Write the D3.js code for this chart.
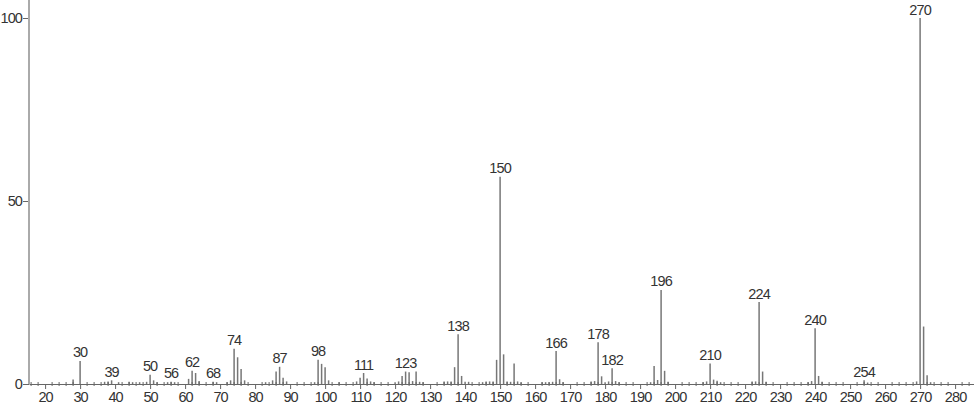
<!DOCTYPE html>
<html>
<head>
<meta charset="utf-8">
<script src="https://cdn.jsdelivr.net/npm/d3@7"></script>
<style>
  body { margin: 0; background: #fff; }
  svg text { font-family: "Liberation Sans", Arial, sans-serif; fill: #333; letter-spacing: -0.9px; }
</style>
</head>
<body>
<div id="spectrum"></div>
<script>
// m/z values and relative intensities (%)
const mz = [
  28, 30, 37, 38, 39, 41, 44, 45, 47, 49, 50, 51, 52, 55, 56, 57,
  61, 62, 63, 64, 68, 69, 72, 73, 74, 75, 76, 77, 83, 85, 86, 87, 88, 89,
  97, 98, 99, 100, 101, 104, 109, 110, 111, 112, 113, 114,
  120, 121, 122, 123, 124, 125, 126, 127, 128,
  134, 135, 136, 137, 138, 139, 140, 141,
  145, 146, 147, 148, 149, 150, 151, 152, 153, 154, 155, 156,
  162, 163, 164, 165, 166, 167, 168,
  176, 177, 178, 179, 180, 181, 182, 183, 184,
  193, 194, 195, 196, 197, 198,
  208, 209, 210, 211, 212, 213,
  222, 223, 224, 225, 226,
  238, 239, 240, 241, 242,
  254, 255,
  269, 270, 271, 272, 273
];
const intensity = [
  1.2, 6.3, 0.6, 0.7, 1.0, 0.5, 0.6, 0.5, 0.5, 0.6, 2.5, 1.0, 0.5, 0.5, 0.6, 0.5,
  1.4, 3.6, 3.0, 0.8, 0.6, 0.5, 0.5, 1.0, 9.6, 7.3, 4.1, 1.0, 0.5, 1.0, 3.4, 4.7, 1.7, 0.7,
  0.5, 6.6, 5.5, 4.6, 1.0, 0.5, 0.7, 1.7, 3.0, 1.5, 0.7, 0.5,
  0.5, 0.7, 2.2, 3.4, 3.2, 0.8, 3.4, 0.6, 0.5,
  0.7, 0.7, 0.7, 4.6, 13.6, 2.2, 0.6, 0.6,
  0.5, 0.7, 0.7, 0.7, 6.6, 56.6, 8.1, 0.7, 0.6, 5.6, 0.7, 0.4,
  0.5, 0.5, 0.5, 0.6, 9.0, 1.3, 0.5,
  0.7, 0.8, 11.4, 2.1, 0.5, 0.7, 4.3, 0.8, 0.5,
  0.5, 4.9, 1.1, 25.7, 3.6, 0.6,
  0.5, 0.7, 5.6, 1.2, 0.9, 0.5,
  0.7, 0.7, 22.4, 3.4, 0.6,
  0.5, 0.8, 15.2, 2.2, 0.6,
  1.0, 0.4,
  0.7, 100, 15.7, 2.4, 0.5
];
// peaks that carry a label
const labelledPeaks = [30, 39, 50, 56, 62, 68, 74, 87, 98, 111, 123, 138, 150, 166, 178, 182, 196, 210, 224, 240, 254, 270];
const xMajorTicks = [20, 30, 40, 50, 60, 70, 80, 90, 100, 110, 120, 130, 140, 150, 160, 170, 180, 190, 200, 210, 220, 230, 240, 250, 260, 270, 280];
const yTicks = [0, 50, 100];

const width = 974, height = 406;
const peaks = mz.map((m, i) => ({ mz: m, value: intensity[i] }));

const svg = d3.select("#spectrum").append("svg")
    .attr("width", width)
    .attr("height", height);

const x = d3.scaleLinear().domain([15.4, 285.4]).range([29, 974]);
const y = d3.scaleLinear().domain([0, 100]).range([384, 18]);

// peaks
svg.selectAll(".peak")
    .data(peaks)
    .enter()
    .append("line")
    .attr("class", "peak")
    .attr("x1", d => x(d.mz))
    .attr("x2", d => x(d.mz))
    .attr("y1", y(0))
    .attr("y2", d => y(d.value))
    .style("stroke", "#777")
    .style("stroke-width", 1.5);

// minor ticks every 2 units
const minorTicks = d3.range(16, 286, 2).filter(t => t % 10 !== 0);
svg.selectAll(".minor-tick")
    .data(minorTicks)
    .enter()
    .append("line")
    .attr("class", "minor-tick")
    .attr("x1", d => x(d))
    .attr("x2", d => x(d))
    .attr("y1", y(0) - 2)
    .attr("y2", y(0) + 2)
    .style("stroke", "#666")
    .style("stroke-width", 1);

// x axis
const xAxis = d3.axisBottom(x)
    .tickValues(xMajorTicks)
    .tickSize(5)
    .tickSizeOuter(0)
    .tickFormat(d3.format("d"));

const gx = svg.append("g")
    .attr("class", "axis x-axis")
    .attr("transform", `translate(0, ${y(0)})`)
    .call(xAxis);
gx.select(".domain").style("stroke", "#666").style("stroke-width", 1.2);
gx.selectAll(".tick line").style("stroke", "#666");
gx.selectAll(".tick text")
    .attr("y", 8)
    .style("font-size", "14.5px");

// y axis
const yAxis = d3.axisLeft(y)
    .tickValues(yTicks)
    .tickSize(6)
    .tickSizeOuter(0)
    .tickPadding(1);

const gy = svg.append("g")
    .attr("class", "axis y-axis")
    .attr("transform", "translate(29, 0)")
    .call(yAxis);
gy.select(".domain").remove();
gy.append("line")
    .attr("x1", 0).attr("x2", 0)
    .attr("y1", 0).attr("y2", y(0))
    .style("stroke", "#aaa")
    .style("stroke-width", 2);
gy.selectAll(".tick line").style("stroke", "#666");
gy.selectAll(".tick text").style("font-size", "14.5px");

// peak labels
svg.selectAll(".peak-label")
    .data(peaks.filter(d => labelledPeaks.includes(d.mz)))
    .enter()
    .append("text")
    .attr("class", "peak-label")
    .attr("x", d => x(d.mz))
    .attr("y", d => y(d.value) - 3.5)
    .attr("text-anchor", "middle")
    .style("font-size", "14.5px")
    .text(d => d.mz);
</script>
</body>
</html>
